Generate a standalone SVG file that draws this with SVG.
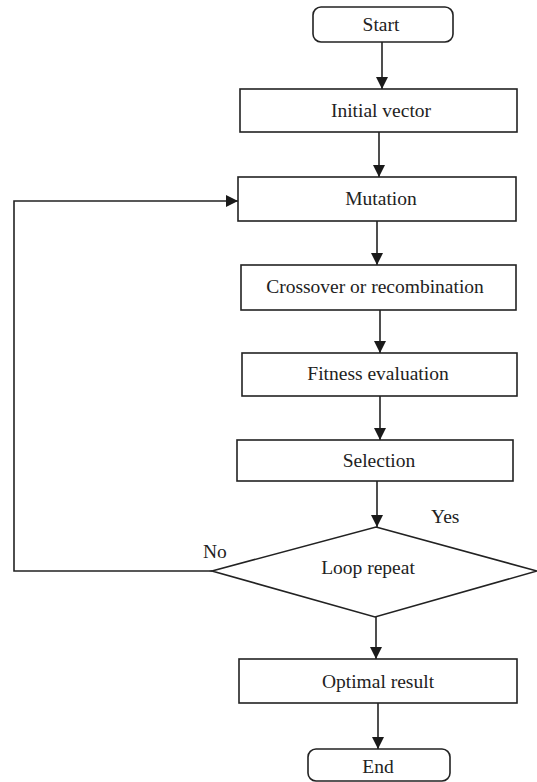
<svg xmlns="http://www.w3.org/2000/svg" width="537" height="782" viewBox="0 0 537 782">
<style>
.box{fill:#fff;stroke:#222;stroke-width:1.6}
.ln{fill:none;stroke:#222;stroke-width:1.6}
.t{font-family:"Liberation Serif","Times New Roman",serif;font-size:19.5px;fill:#222;text-anchor:middle}
.l{font-family:"Liberation Serif","Times New Roman",serif;font-size:19.5px;fill:#222}
</style>
<defs>
<marker id="ah" markerWidth="12" markerHeight="12" refX="12" refY="6" orient="auto" markerUnits="userSpaceOnUse">
<path d="M0,0 L12,6 L0,12 Z" fill="#1a1a1a"/>
</marker>
</defs>
<rect width="537" height="782" fill="#fff"/>
<g id="connectors">
<line class="ln" x1="382" y1="42" x2="382" y2="89" marker-end="url(#ah)"/>
<line class="ln" x1="379" y1="132" x2="379" y2="177" marker-end="url(#ah)"/>
<line class="ln" x1="377" y1="221" x2="377" y2="265" marker-end="url(#ah)"/>
<line class="ln" x1="380" y1="310" x2="380" y2="353" marker-end="url(#ah)"/>
<line class="ln" x1="380" y1="396" x2="380" y2="440" marker-end="url(#ah)"/>
<line class="ln" x1="377" y1="481" x2="377" y2="527" marker-end="url(#ah)"/>
<line class="ln" x1="376" y1="617" x2="376" y2="659" marker-end="url(#ah)"/>
<line class="ln" x1="378" y1="703" x2="378" y2="749" marker-end="url(#ah)"/>
<polyline class="ln" points="212,571 14,571 14,201 238,201" marker-end="url(#ah)"/>
<text class="l" x="203" y="558">No</text>
<text class="l" x="431" y="523">Yes</text>
</g>
<g id="start">
<rect class="box" x="313" y="7" width="140" height="35" rx="8"/>
<text class="t" x="381" y="31">Start</text>
</g>
<g id="initial">
<rect class="box" x="240" y="89" width="277" height="43"/>
<text class="t" x="381" y="117">Initial vector</text>
</g>
<g id="mutation">
<rect class="box" x="238" y="177" width="278" height="44"/>
<text class="t" x="381" y="205">Mutation</text>
</g>
<g id="crossover">
<rect class="box" x="241" y="265" width="275" height="45"/>
<text class="t" x="375" y="293">Crossover or recombination</text>
</g>
<g id="fitness">
<rect class="box" x="242" y="353" width="275" height="43"/>
<text class="t" x="378" y="380">Fitness evaluation</text>
</g>
<g id="selection">
<rect class="box" x="237" y="440" width="276" height="41"/>
<text class="t" x="379" y="467">Selection</text>
</g>
<g id="loop">
<polygon class="box" points="376,527 537,571 375,617 212,571"/>
<text class="t" x="368" y="574">Loop repeat</text>
</g>
<g id="optimal">
<rect class="box" x="239" y="659" width="278" height="44"/>
<text class="t" x="378" y="688">Optimal result</text>
</g>
<g id="end">
<rect class="box" x="308" y="749" width="142" height="32" rx="8"/>
<text class="t" x="378" y="773">End</text>
</g>
</svg>
